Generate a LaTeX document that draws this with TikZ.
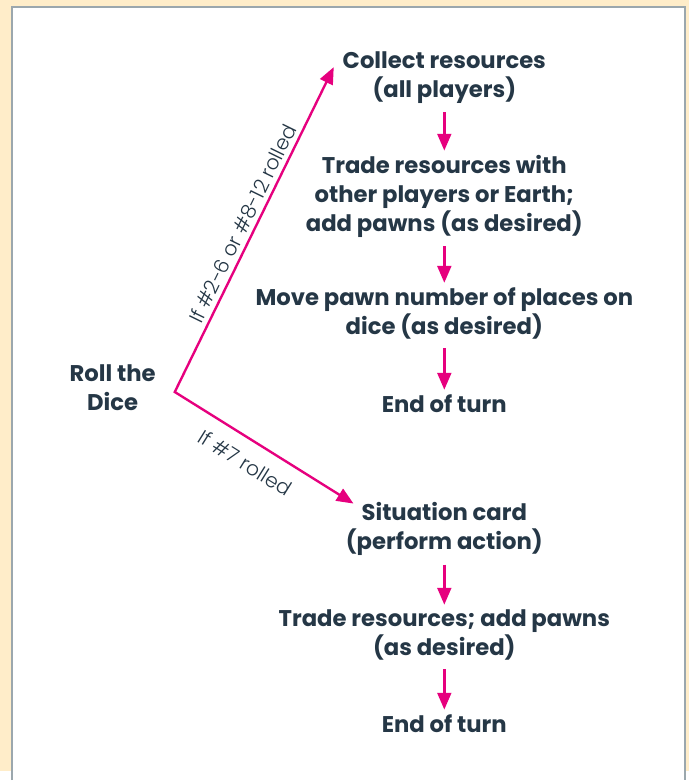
\documentclass[tikz,border=0pt]{standalone}
\usepackage{fontspec}
\setmainfont{Poppins}[BoldFont=* Bold]
\newfontfamily\lightfont{Poppins Light}
\usetikzlibrary{arrows.meta}
\definecolor{ink}{HTML}{253746}
\definecolor{mag}{HTML}{E6007E}
\definecolor{beige}{HTML}{FFEDC9}
\definecolor{frame}{HTML}{9BA7AD}
\tikzset{
  stepbox/.style={align=center, inner sep=0pt, text=ink, font=\fontsize{23}{29}\selectfont\bfseries},
  arr/.style={draw=mag, line width=2.4pt, -{Triangle[length=17pt,width=14pt]}},
  lbl/.style={text=ink, font=\fontsize{20.5}{22}\selectfont\lightfont, inner sep=4pt}
}
\begin{document}
\begin{tikzpicture}[x=1pt,y=-1pt]
\fill[beige] (0,0) rectangle (698,781);
\fill[white] (12.5,7.5) rectangle (694,790);
\draw[frame, line width=2pt] (12.5,790) -- (12.5,7.5) -- (694,7.5) -- (694,790);
\useasboundingbox (0,0) rectangle (698,781);

\node[stepbox] (collect) at (450,78.5) {Collect resources\\(all players)};
\node[stepbox] (trade) at (450,199) {Trade resources with\\other players or Earth;\\add pawns (as desired)};
\node[stepbox] (move) at (450,317.5) {Move pawn number of places on\\dice (as desired)};
\node[stepbox] (end1) at (450,409) {End of turn};
\node[stepbox] (roll) at (114,392.5) {Roll the\\Dice};
\node[stepbox] (sit) at (450,536) {Situation card\\(perform action)};
\node[stepbox] (trade2) at (450,643) {Trade resources; add pawns\\(as desired)};
\node[stepbox] (end2) at (450,733) {End of turn};

\coordinate (j) at (177,397);
\coordinate (t1) at (338,68);
\coordinate (t2) at (358,510);

\draw[draw=mag, line width=2.4pt, {Triangle[length=17pt,width=14pt]}-{Triangle[length=17pt,width=14pt]}]
  (t1) -- node[lbl, sloped, above, pos=0.5] {If \#2-6 or \#8-12 rolled} (j)
  -- node[lbl, sloped, below, pos=0.46, inner sep=0pt, yshift=-14pt] {If \#7 rolled} (t2);

\draw[arr] ([yshift=-9]collect.south) -- ([yshift=5]trade.north);
\draw[arr] ([yshift=-9]trade.south) -- ([yshift=5]move.north);
\draw[arr] ([yshift=-9]move.south) -- ([yshift=5]end1.north);
\draw[arr] ([yshift=-9]sit.south) -- ([yshift=5]trade2.north);
\draw[arr] ([yshift=-9]trade2.south) -- ([yshift=5]end2.north);
\end{tikzpicture}
\end{document}
